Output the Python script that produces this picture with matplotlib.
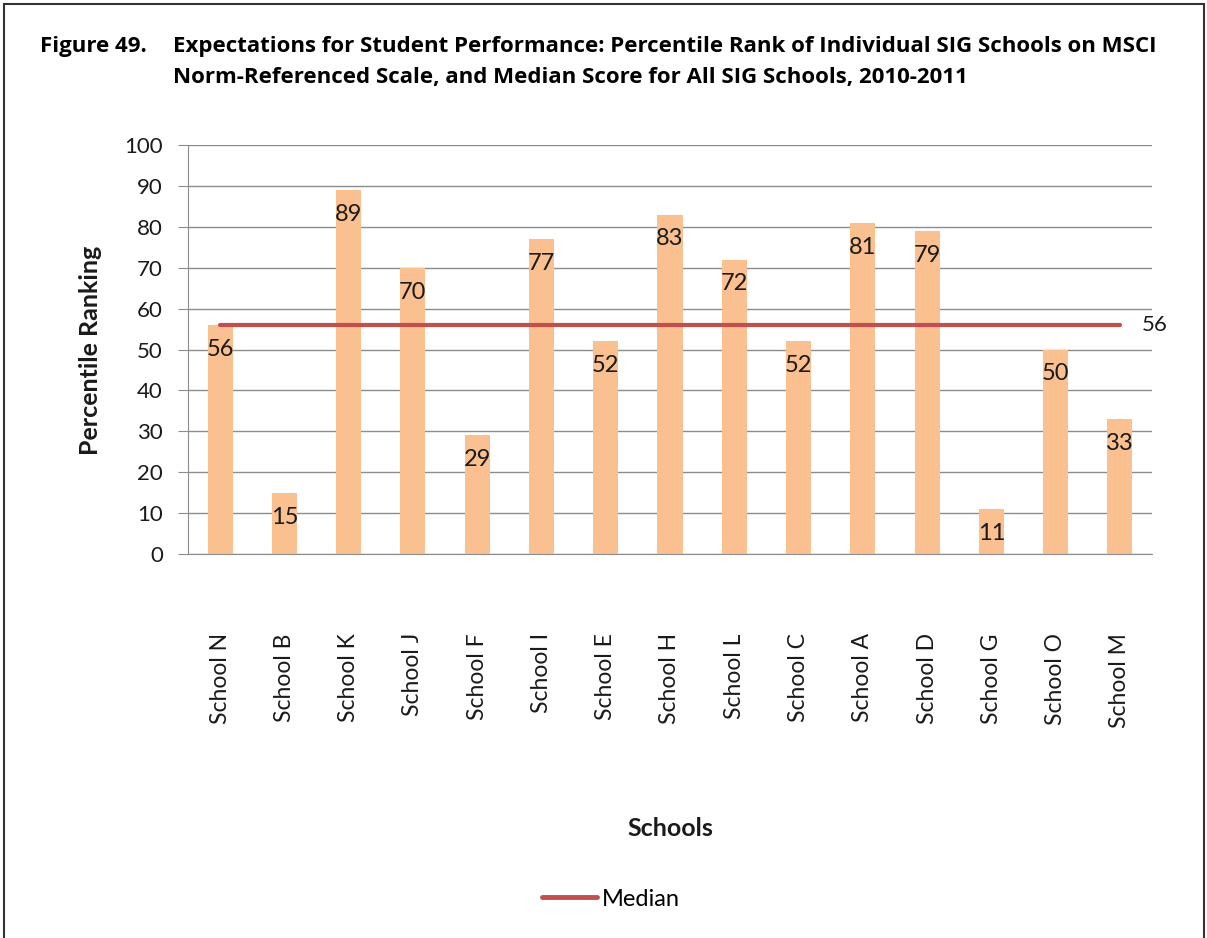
import matplotlib.pyplot as plt
import matplotlib.patches as mpatches
import numpy as np

schools = ["School N", "School B", "School K", "School J", "School F",
           "School I", "School E", "School H", "School L", "School C",
           "School A", "School D", "School G", "School O", "School M"]
percentile = [56, 15, 89, 70, 29, 77, 52, 83, 72, 52, 81, 79, 11, 50, 33]
median_value = 56

BAR = "#FAC090"
MED = "#C0504D"
GRID = "#8C8C8C"
INK = "#1a1a1a"

plt.rcParams["font.family"] = ["Lato", "DejaVu Sans"]

fig = plt.figure(figsize=(12.07, 9.38), dpi=100)
ax = fig.add_axes([188 / 1207, 1 - 554 / 938, (1152 - 188) / 1207, (554 - 145) / 938])

x = np.arange(len(schools))
ax.bar(x, percentile, width=0.39, color=BAR, zorder=2)
ax.plot(x, [median_value] * len(x), color=MED, linewidth=3, solid_capstyle="round", zorder=3)

# data labels just inside the top of each bar
for xi, v in zip(x, percentile):
    ax.annotate(str(v), xy=(xi, v), xytext=(0, -10), textcoords="offset points",
                ha="center", va="top", fontsize=17, color=INK, zorder=4)
ax.annotate(str(median_value), xy=(x[-1], median_value), xytext=(16, 0),
            textcoords="offset points", ha="left", va="center", fontsize=16, color=INK)

ax.set_xlim(-0.5, len(schools) - 0.5)
ax.set_ylim(0, 100)
ax.set_yticks(range(0, 101, 10))
ax.yaxis.grid(True, color=GRID, linewidth=1, zorder=0)
ax.set_axisbelow(True)
ax.set_xticks(x)
ax.set_xticklabels(schools, rotation=90, fontsize=16.5, color=INK)
ax.tick_params(axis="x", length=0, pad=57)
ax.tick_params(axis="y", length=7, color=GRID, labelsize=16, labelcolor=INK, pad=11)
for s in ("top", "right"):
    ax.spines[s].set_visible(False)
for s in ("left", "bottom"):
    ax.spines[s].set_color(GRID)

fig.text(91 / 1207, 1 - 350 / 938, "Percentile Ranking", rotation=90, ha="center", va="center",
         fontsize=18, fontweight="bold", color=INK)
fig.text(670 / 1207, 1 - 828 / 938, "Schools", ha="center", va="center",
         fontsize=18, fontweight="bold", color=INK)

# two-line title, tab-aligned like the report
TFONT = ["Open Sans", "DejaVu Sans"]
fig.text(40 / 1207, 1 - 52 / 938, "Figure 49.", ha="left", va="baseline",
         fontsize=16, fontweight="bold", family=TFONT)
fig.text(173 / 1207, 1 - 52 / 938,
         "Expectations for Student Performance: Percentile Rank of Individual SIG Schools on MSCI",
         ha="left", va="baseline", fontsize=16, fontweight="bold", family=TFONT)
fig.text(173 / 1207, 1 - 83 / 938,
         "Norm-Referenced Scale, and Median Score for All SIG Schools, 2010-2011",
         ha="left", va="baseline", fontsize=16, fontweight="bold", family=TFONT)

handles = [plt.Line2D([], [], color=MED, linewidth=3.5, solid_capstyle="round")]
fig.legend(handles, ["Median"], loc="center left", bbox_to_anchor=(542 / 1207, 1 - 899 / 938),
           frameon=False, fontsize=17, handlelength=2.35, handletextpad=0.2,
           borderpad=0, borderaxespad=0)

fig.patches.append(mpatches.Rectangle((4 / 1207, -0.01), 1200 / 1207, 1 - 4 / 938 + 0.01,
                                      transform=fig.transFigure, fill=False,
                                      edgecolor="#333333", linewidth=1.5))

fig.savefig("out.png", dpi=100)
